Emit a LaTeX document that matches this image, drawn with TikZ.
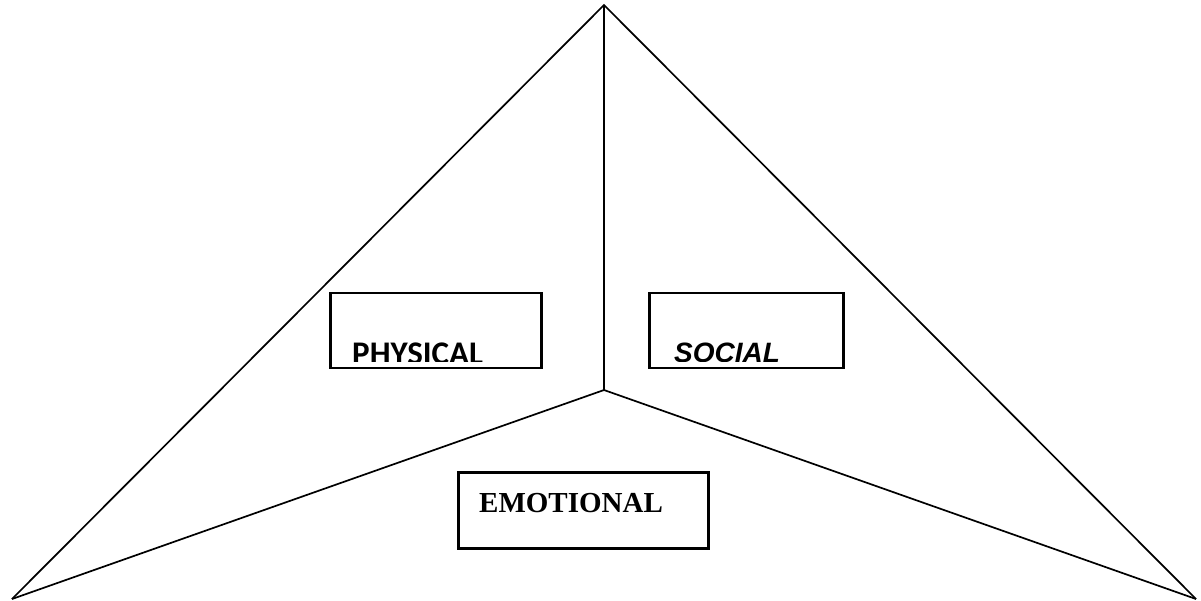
\documentclass[tikz,border=0pt]{standalone}
\usepackage{fontspec}
\setmainfont{Liberation Serif}
\newfontfamily\carlfont{Carlito}
\newfontfamily\arialfont{Liberation Sans}
\begin{document}
\begin{tikzpicture}[x=1pt,y=-1pt,
  edge/.style={line width=1.7pt},
  box/.style={draw, line width=2.3pt, inner sep=0pt},
  lbl/.style={inner sep=0pt, anchor=base west}]
\useasboundingbox (0,0) rectangle (1201,600);
\coordinate (top) at (604,5);
\coordinate (bl) at (12,599);
\coordinate (br) at (1196,599);
\coordinate (c) at (604,390);
\draw[edge] (bl) -- (top) -- (br);
\draw[edge] (bl) -- (c) -- (br);
\draw[edge] (c) -- (top);
% PHYSICAL
\node[box, minimum width=211pt, minimum height=75pt] (phys) at (436,330.5) {};
\begin{scope}
\clip (phys.north west) rectangle ([yshift=8pt]phys.south east);
\node[lbl, font=\carlfont\bfseries\fontsize{33}{33}\selectfont] (physt) at (352,364) {PHYSICAL};
\end{scope}
% SOCIAL
\node[box, minimum width=194pt, minimum height=75pt] (soc) at (746.5,330.5) {};
\begin{scope}
\clip (soc.north west) rectangle ([yshift=8pt]soc.south east);
\node[lbl, font=\arialfont\bfseries\itshape\fontsize{28}{28}\selectfont] (soct) at (674,362) {SOCIAL};
\end{scope}
% EMOTIONAL
\node[box, minimum width=250pt, minimum height=76pt] (emo) at (583.5,510.5) {};
\node[lbl, font=\bfseries\fontsize{29}{29}\selectfont] (emot) at (479,512) {EMOTIONAL};
\end{tikzpicture}
\end{document}
